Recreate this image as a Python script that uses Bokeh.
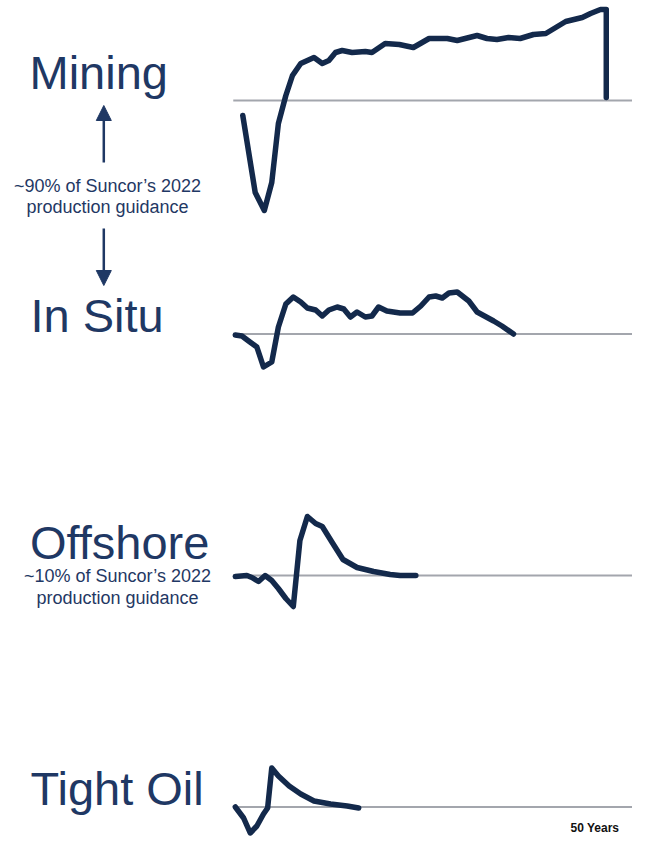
from bokeh.plotting import figure
from bokeh.models import Range1d, Label, Arrow, NormalHead
from bokeh.embed import file_html
from bokeh.resources import INLINE

# ---------------- data (years since start, relative value) ----------------
mining_years = [1.0, 2.5, 3.6, 4.5, 5.3, 6.2, 7.0, 8.0, 9.6, 10.6, 11.4, 12.2, 13.0, 14.2,
                15.8, 16.6, 18.2, 19.9, 21.6, 23.5, 25.7, 26.9, 29.3, 30.5, 31.7, 33.1,
                34.5, 36.1, 37.6, 38.6, 40.0, 42.0, 43.0, 44.2, 44.9, 44.9]
mining_values = [-15, -92, -110, -82, -23, 5, 25, 37, 43, 37, 40, 48, 50, 48,
                 49, 48, 57, 56, 53, 62, 62, 60, 65, 62, 61, 63,
                 62, 66, 67, 72, 79, 83, 87, 91, 91, 3]

insitu_years = [0.1, 0.9, 1.7, 2.7, 3.5, 4.5, 5.3, 6.2, 7.1, 8.0, 8.8, 9.8, 10.6, 11.4,
                12.4, 13.2, 14.0, 14.8, 15.8, 16.6, 17.4, 18.4, 20.0, 21.5, 22.5, 23.5,
                24.3, 25.1, 25.9, 26.9, 28.3, 29.3, 31.3, 32.3, 33.7]
insitu_values = [-1, -2, -7, -13, -33, -28, 7, 30, 37, 32, 26, 24, 18, 24,
                 27, 25, 17, 22, 17, 18, 27, 23, 21, 21, 28, 37,
                 38, 36, 41, 42, 33, 22, 13, 8, 0]

offshore_years = [0.1, 1.5, 2.1, 2.9, 3.7, 4.5, 5.3, 6.2, 7.1, 7.9, 8.8, 9.8, 10.6,
                  11.8, 13.1, 14.8, 16.8, 18.8, 20.0, 21.9]
offshore_values = [-1, 0, -2, -6, 0, -5, -13, -23, -31, 35, 59, 52, 49,
                   33, 16, 8, 4, 1, 0, 0]

tight_years = [0.1, 1.1, 1.9, 2.7, 3.5, 4.0, 4.5, 5.3, 6.6, 8.0, 9.6, 11.6, 13.6, 15.0]
tight_values = [0, -11, -26, -19, -7, -1, 39, 31, 21, 13, 6, 3, 1, -1]

play_names = ["Mining", "In Situ", "Offshore", "Tight Oil"]
share_notes = [["~90% of Suncor\u2019s 2022", "production guidance"],
               ["~10% of Suncor\u2019s 2022", "production guidance"]]
horizon_label = "50 Years"
horizon_years = 50

# ---------------- layout / style ----------------
W, H = 632, 836
CURVE = "#13294B"
TEXT = "#1F3864"
BASE = "#A3A6AD"
FONT = "Liberation Sans"
BASELINE_SHIFT = 0.36  # em; compensates renderer's baseline placement

p = figure(width=W, height=H, output_backend="svg", toolbar_location=None,
           x_range=Range1d(0, W), y_range=Range1d(H, 0),
           min_border=0, outline_line_color=None)
p.axis.visible = False
p.grid.visible = False
p.background_fill_color = "white"
p.border_fill_color = "white"

# x scale in years: year 0 at px 234, 50 years spanning to px 648
x0_px = 234
px_per_year = (648 - x0_px) / horizon_years
p.extra_x_ranges = {"yr": Range1d(-x0_px / px_per_year, (W - x0_px) / px_per_year)}

# panel baselines (pixel rows) and title baselines
panels = [
    ("mining", 100.0, mining_years, mining_values),
    ("insitu", 333.5, insitu_years, insitu_values),
    ("offshore", 575.0, offshore_years, offshore_values),
    ("tight", 806.5, tight_years, tight_values),
]
for name, base, xs, ys in panels:
    p.extra_y_ranges[name] = Range1d(base - H, base)

for name, base, xs, ys in panels:
    p.segment(x0=[-0.15], y0=[0], x1=[horizon_years], y1=[0], line_color=BASE,
              line_width=2, x_range_name="yr", y_range_name=name)
    p.line(xs, ys, line_color=CURVE, line_width=5.5, line_join="round",
           line_cap="round", x_range_name="yr", y_range_name=name)


def label(x, y, text, size, align="left", color=TEXT, style="normal"):
    p.add_layout(Label(x=x, y=y - BASELINE_SHIFT * size, text=text, text_font=FONT,
                       text_font_size=f"{size}px", text_font_style=style,
                       text_color=color, text_baseline="alphabetic", text_align=align))


# play titles
title_pos = [(29, 88.5), (30, 331.5), (29.5, 559), (30, 805)]
for txt, (x, y) in zip(play_names, title_pos):
    label(x, y, txt, 47)

# share notes
note_pos = [(107, 191.7, 213.3), (117, 582, 603.5)]
for lines, (cx, y1, y2) in zip(share_notes, note_pos):
    for t, y in zip(lines, (y1, y2)):
        label(cx, y, t, 18, align="center")

# arrows
for ys, ye in [(162, 105), (228, 285)]:
    p.add_layout(Arrow(x_start=103.3, y_start=ys, x_end=103.3, y_end=ye,
                       line_color=TEXT, line_width=2.5,
                       end=NormalHead(size=15, fill_color=TEXT, line_color=TEXT, line_width=1)))

label(570, 832, horizon_label, 12, color="#111111", style="bold")

open("out.html", "w").write(file_html(p, INLINE))
